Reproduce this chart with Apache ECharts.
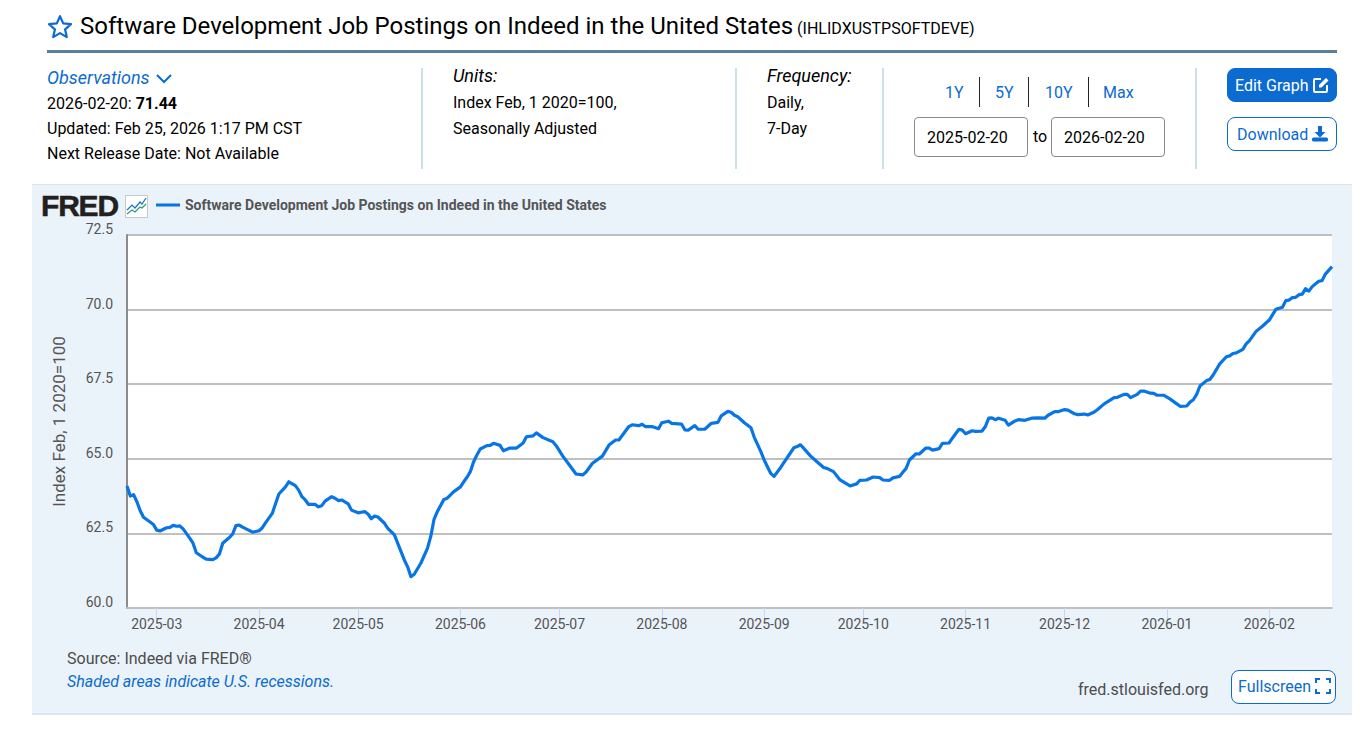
<!DOCTYPE html>
<html><head><meta charset="utf-8">
<script src="https://cdn.jsdelivr.net/npm/echarts@6/dist/echarts.min.js"></script>
<style>
html,body{margin:0;padding:0;background:#fff;width:1369px;height:730px;overflow:hidden;font-family:Roboto,sans-serif;color:#000}
.t{position:absolute;white-space:nowrap;font-size:16px;line-height:20px}
.i{font-style:italic}
.b{color:#0b6bd0}
.v{position:absolute;top:68px;width:2px;height:101px;background:#cbe0e7}
.s{position:absolute;top:77px;width:1px;height:30px;background:#222}
.box{position:absolute;top:117px;height:38px;width:112px;border:1px solid #8a8a8a;border-radius:4px;text-align:left;padding-left:0;text-indent:12px;line-height:39px;font-size:16px}
.btn{position:absolute;box-sizing:border-box;border:1px solid #0b6bd0;border-radius:8px;text-align:left;font-size:16px;color:#0b6bd0;background:#fff;white-space:nowrap}
#panel{position:absolute;left:32px;top:184px;width:1320px;height:531px;background:#eaf2fa;box-shadow:inset 0 1px 0 #dde6ee,inset 0 -2px 0 #dde6ee}
#chart{position:absolute;left:0;top:0;width:1369px;height:730px}
svg{position:absolute}
</style></head><body>
<div id="panel"></div>
<div id="chart"></div>

<svg style="left:47px;top:14px" width="26" height="26" viewBox="0 0 26 26"><path d="M13 2.2l3.2 7.2 7.8.8-5.9 5.2 1.7 7.7-6.8-4-6.8 4 1.7-7.7L2 10.2l7.8-.8z" fill="none" stroke="#0b6bd0" stroke-width="2.2" stroke-linejoin="round"/></svg>
<div class="t" style="left:80px;top:11px;font-size:24px;line-height:30px">Software Development Job Postings on Indeed in the United States <span style="font-size:16px;margin-left:-2px">(IHLIDXUSTPSOFTDEVE)</span></div>
<div style="position:absolute;left:47px;top:50px;width:1290px;height:3px;background:#5a7f9a"></div>

<div class="t i b" style="left:47px;top:68px;font-size:18px">Observations</div>
<svg style="left:155px;top:73px" width="18" height="12" viewBox="0 0 18 12"><path d="M2 2l7 7 7-7" fill="none" stroke="#0b6bd0" stroke-width="2"/></svg>
<div class="t" style="left:47px;top:94px">2026-02-20: <b>71.44</b></div>
<div class="t" style="left:47px;top:119px">Updated: Feb 25, 2026 1:17 PM CST</div>
<div class="t" style="left:47px;top:144px">Next Release Date: Not Available</div>
<div class="v" style="left:421px"></div>
<div class="t i" style="left:453px;top:66px;font-size:18px">Units:</div>
<div class="t" style="left:453px;top:93px">Index Feb, 1 2020=100,</div>
<div class="t" style="left:453px;top:119px">Seasonally Adjusted</div>
<div class="v" style="left:735px"></div>
<div class="t i" style="left:767px;top:66px;font-size:18px">Frequency:</div>
<div class="t" style="left:767px;top:93px">Daily,</div>
<div class="t" style="left:767px;top:119px">7-Day</div>
<div class="v" style="left:882px"></div>
<div class="t b" style="left:945px;top:83px">1Y</div><div class="s" style="left:979px"></div>
<div class="t b" style="left:995px;top:83px">5Y</div><div class="s" style="left:1028px"></div>
<div class="t b" style="left:1045px;top:83px">10Y</div><div class="s" style="left:1088px"></div>
<div class="t b" style="left:1103px;top:83px">Max</div>
<div class="box" style="left:914px">2025-02-20</div>
<div class="t" style="left:1033px;top:127px">to</div>
<div class="box" style="left:1051px">2026-02-20</div>
<div class="v" style="left:1195px"></div>
<div class="btn" style="left:1227px;top:68px;width:110px;height:34px;background:#0b6bd0;color:#fff;line-height:33px;padding-left:7px">Edit Graph</div>
<svg style="left:1312px;top:76px" width="18" height="18" viewBox="0 0 18 18"><path d="M9 3H3a1 1 0 0 0-1 1v11a1 1 0 0 0 1 1h11a1 1 0 0 0 1-1V9" fill="none" stroke="#fff" stroke-width="2"/><path d="M7 9l7-7 2.500 2.500-7 7H7z" fill="#fff"/></svg>
<div class="btn" style="left:1227px;top:117px;width:110px;height:34px;line-height:33px;padding-left:9px">Download</div>
<svg style="left:1311px;top:125px" width="18" height="18" viewBox="0 0 18 18"><path d="M7 1h4v6h3.500L9 12.500 3.500 7H7z" fill="#0b6bd0"/><rect x="1" y="12.500" width="16" height="4" rx="1.500" fill="#0b6bd0"/></svg>

<div class="t" style="left:41px;top:192px;font-size:30px;line-height:28px;font-weight:900;letter-spacing:-1.2px;color:#231f20;-webkit-text-stroke:.5px #231f20;font-family:'Liberation Sans',Roboto,sans-serif">FRED</div>
<svg style="left:125px;top:195px" width="23" height="23" viewBox="0 0 23 23"><rect x=".5" y=".5" width="22" height="22" fill="#fff" stroke="#c9c9c9"/><path d="M2 15l5-5 3 3 5-6 2 2 4-6" fill="none" stroke="#1f6fc4" stroke-width="1.200"/><path d="M2 19l5-4 3 2 5-5 2 1 4-4" fill="none" stroke="#2a9d7f" stroke-width="1.200"/></svg>

<div class="t" style="left:67px;top:649px;color:#4d4d4d">Source: Indeed via FRED®</div>
<div class="t i b" style="left:67px;top:672px">Shaded areas indicate U.S. recessions.</div>
<div class="t" style="left:1078px;top:680px;color:#4d4d4d">fred.stlouisfed.org</div>
<div class="btn" style="left:1231px;top:670px;width:105px;height:34px;line-height:32px;padding-left:6px">Fullscreen</div>
<svg style="left:1315px;top:678px" width="16" height="16" viewBox="0 0 16 16"><path d="M1 5V1h4M11 1h4v4M15 11v4h-4M5 15H1v-4" fill="none" stroke="#0b6bd0" stroke-width="2"/></svg>

<script>
// Days since 2025-02-20 and index values
const startDate = '2025-02-20';
const endDate = '2026-02-20';
const seriesName = 'Software Development Job Postings on Indeed in the United States';
const yAxisName = 'Index Feb, 1 2020=100';
const monthTicks = ['2025-03','2025-04','2025-05','2025-06','2025-07','2025-08','2025-09','2025-10','2025-11','2025-12','2026-01','2026-02'];
const dayOffsets = [0,1,2,3,4,5,7,8,9,10,12,13,14,15,16,17,19,20,21,23,24,26,27,28,29,31,32,33,34,35,37,38,40,41,42,44,46,48,49,51,52,53,54,55,57,58,59,60,62,63,64,65,67,68,70,71,72,73,74,75,76,78,79,81,83,84,85,86,87,89,91,92,93,94,96,97,99,101,102,103,104,105,106,107,109,110,111,113,114,116,118,120,121,123,124,126,129,130,132,134,136,138,139,141,144,146,148,149,152,153,155,156,157,159,161,162,164,165,168,169,170,172,173,175,177,179,180,182,183,184,185,187,189,190,192,193,195,196,198,202,203,204,205,207,209,211,212,214,216,219,221,222,224,226,228,229,231,232,234,235,236,237,239,240,242,243,244,246,247,249,250,252,253,254,256,257,259,260,261,262,263,264,266,267,269,270,272,274,276,278,279,281,282,284,285,287,288,290,291,293,294,296,299,300,302,303,304,306,307,308,310,311,312,314,316,318,319,321,322,323,324,325,327,328,329,331,333,334,335,336,338,339,340,342,344,346,348,350,351,352,353,354,355,356,357,358,359,361,362,363,365];
const indexValues = [64.09,63.75,63.80,63.56,63.26,63.04,62.88,62.80,62.61,62.58,62.69,62.70,62.77,62.74,62.75,62.65,62.34,62.17,61.85,61.70,61.64,61.62,61.68,61.81,62.17,62.36,62.48,62.76,62.78,62.71,62.60,62.54,62.59,62.69,62.86,63.17,63.82,64.06,64.23,64.10,63.95,63.73,63.62,63.47,63.47,63.39,63.43,63.58,63.73,63.68,63.60,63.62,63.49,63.28,63.19,63.21,63.23,63.15,62.99,63.08,63.05,62.84,62.67,62.45,61.89,61.61,61.38,61.05,61.13,61.50,62.00,62.39,62.97,63.23,63.64,63.68,63.90,64.06,64.23,64.38,64.57,64.90,65.13,65.33,65.44,65.45,65.52,65.45,65.27,65.36,65.36,65.53,65.74,65.77,65.87,65.71,65.57,65.44,65.09,64.79,64.49,64.46,64.55,64.85,65.09,65.46,65.63,65.63,66.08,66.14,66.11,66.16,66.08,66.08,66.01,66.21,66.26,66.19,66.16,65.97,65.96,66.11,65.99,65.99,66.19,66.22,66.44,66.59,66.56,66.46,66.41,66.21,66.04,65.72,65.24,64.96,64.51,64.41,64.71,65.37,65.41,65.47,65.35,65.10,64.90,64.71,64.68,64.57,64.29,64.09,64.16,64.28,64.29,64.39,64.37,64.29,64.28,64.36,64.41,64.55,64.68,64.96,65.17,65.16,65.36,65.36,65.29,65.34,65.52,65.53,65.69,65.99,65.96,65.84,65.94,65.92,65.93,66.08,66.36,66.37,66.31,66.36,66.29,66.13,66.27,66.31,66.29,66.36,66.37,66.36,66.46,66.58,66.58,66.65,66.63,66.51,66.48,66.50,66.47,66.57,66.65,66.84,67.05,67.06,67.16,67.16,67.05,67.16,67.27,67.27,67.20,67.19,67.13,67.13,67.00,66.84,66.76,66.77,66.90,66.98,67.16,67.44,67.62,67.66,67.81,68.18,68.42,68.45,68.53,68.55,68.67,68.85,68.96,69.27,69.45,69.65,70.01,70.08,70.30,70.32,70.40,70.41,70.50,70.52,70.70,70.62,70.77,70.95,70.97,71.19,71.44];

const DAY = 86400000;
const toMs = s => { const p = s.split('-').map(Number); return Date.UTC(p[0], p[1]-1, p[2]||1); };
const t0 = toMs(startDate);
const points = dayOffsets.map((d,i)=>[t0 + d*DAY, indexValues[i]]);
const tickTimes = monthTicks.map(toMs);
const pad = n => String(n).padStart(2,'0');

const chart = echarts.init(document.getElementById('chart'), null, {renderer:'svg'});
chart.setOption({
  animation:false,
  backgroundColor:'transparent',
  textStyle:{fontFamily:'Roboto, sans-serif'},
  legend:{
    show:true,left:151,top:193,itemWidth:24,itemHeight:3,itemGap:5,icon:'rect',
    textStyle:{fontFamily:'Roboto, sans-serif',fontSize:14,fontWeight:'bold',color:'#555'},
    data:[seriesName]
  },
  grid:{left:127,top:235,width:1205,height:373,show:true,backgroundColor:'#fff',borderWidth:0,containLabel:false},
  xAxis:{
    type:'value',min:t0,max:toMs(endDate),scale:true,
    axisLine:{show:true,onZero:false,lineStyle:{color:'#c0c0c0',width:2}},
    axisTick:{show:true,length:11,lineStyle:{color:'#ccd6eb',width:1},customValues:tickTimes},
    axisLabel:{
      color:'#555',fontSize:14,margin:9,hideOverlap:false,
      customValues:tickTimes,
      formatter:v=>{const d=new Date(v);return d.getUTCFullYear()+'-'+pad(d.getUTCMonth()+1);}
    },
    splitLine:{show:false}
  },
  yAxis:{
    type:'value',min:60,max:72.5,interval:2.5,
    name:yAxisName,nameLocation:'middle',nameGap:60,nameRotate:90,
    nameTextStyle:{color:'#555',fontSize:17,fontFamily:'Roboto, sans-serif'},
    axisLine:{show:true,lineStyle:{color:'#8c8c8c',width:2}},
    axisTick:{show:false},
    axisLabel:{color:'#555',fontSize:14,lineHeight:12,margin:14,align:'right',verticalAlign:'bottom',formatter:v=>v.toFixed(1)},
    splitLine:{show:true,lineStyle:{color:'#c0c0c0',width:2}}
  },
  series:[{
    name:seriesName,type:'line',data:points,showSymbol:false,symbol:'none',smooth:false,clip:true,
    lineStyle:{color:'#0875e6',width:3.2,join:'round'},itemStyle:{color:'#0875e6'}
  }]
});
</script>
</body></html>
